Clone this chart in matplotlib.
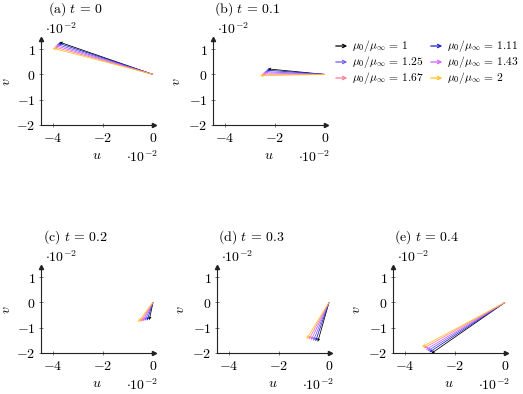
import matplotlib
matplotlib.use("Agg")
import matplotlib.pyplot as plt
import numpy as np

plt.rcParams['mathtext.fontset'] = 'cm'
plt.rcParams['font.family'] = ['DejaVu Serif']

# ---- data (values in units of 1e-2) ----
times = ["0", "0.1", "0.2", "0.3", "0.4"]
panel_tags = ["a", "b", "c", "d", "e"]
ratios = ["1", "1.11", "1.25", "1.43", "1.67", "2"]
colors = ["#000000", "#2020c8", "#6e5cff", "#d060ff", "#ff7a99", "#ffc21a"]

u_t0 = [-3.75, -3.80, -3.86, -3.91, -3.96, -4.02]
v_t0 = [1.28, 1.24, 1.19, 1.14, 1.09, 1.04]
u_t1 = [-2.30, -2.36, -2.42, -2.48, -2.54, -2.60]
v_t1 = [0.22, 0.17, 0.11, 0.06, 0.01, -0.05]
u_t2 = [-0.15, -0.24, -0.33, -0.42, -0.51, -0.60]
v_t2 = [-0.70, -0.72, -0.73, -0.75, -0.77, -0.78]
u_t3 = [-0.45, -0.54, -0.63, -0.72, -0.81, -0.90]
v_t3 = [-1.56, -1.54, -1.52, -1.49, -1.47, -1.45]
u_t4 = [-2.95, -3.03, -3.10, -3.17, -3.25, -3.32]
v_t4 = [-2.02, -1.97, -1.92, -1.87, -1.81, -1.76]

xticks = [-4, -2, 0]
yticks = [-2, -1, 0, 1]

U = [u_t0, u_t1, u_t2, u_t3, u_t4]
V = [v_t0, v_t1, v_t2, v_t3, v_t4]

W, H = 523, 394
fig = plt.figure(figsize=(W / 100, H / 100), dpi=100)

def fx(px):
    return px / W

def fy(py):
    return 1 - py / H

lefts = [41, 213, 41, 217, 393]
tops = [39, 39, 267, 267, 267]
aw, ah = 113, 86
fs = 10

for i in range(5):
    L, T = lefts[i], tops[i]
    ax = fig.add_axes([fx(L), fy(T + ah), aw / W, ah / H])
    ax.set_xlim(-4.48, 0.04)
    ax.set_ylim(-2.0, 1.4)
    for s in ["top", "right"]:
        ax.spines[s].set_visible(False)
    for s in ["left", "bottom"]:
        ax.spines[s].set_linewidth(0.8)
        ax.spines[s].set_color("#222222")
    ax.plot(1, 0, ">", color="#222222", ms=3, transform=ax.transAxes, clip_on=False)
    ax.plot(0, 1, "^", color="#222222", ms=3, transform=ax.transAxes, clip_on=False)
    ax.set_xticks(xticks)
    ax.set_yticks(yticks)
    ax.set_xticklabels([r"$%d$" % t for t in xticks], fontsize=fs)
    ax.set_yticklabels([r"$%d$" % t for t in yticks], fontsize=fs)
    ax.tick_params(direction="inout", length=3, width=0.5, color="#444444", pad=2.5)
    ax.patch.set_alpha(0)

    for j in range(len(ratios)):
        ax.quiver(0, 0, U[i][j], V[i][j], angles="xy", scale_units="xy", scale=1,
                  color=colors[j], width=0.007, headwidth=4, headlength=4.5,
                  headaxislength=4, clip_on=False, zorder=3 + j)

    fig.text(fx(L + 34), fy(T - 30), r"$\mathrm{(%s)}\ t\,=\,%s$" % (panel_tags[i], times[i]),
             ha="center", va="center", fontsize=fs)
    fig.text(fx(L + 20), fy(T - 10), r"$\cdot 10^{-2}$", ha="center", va="center", fontsize=fs)
    fig.text(fx(L + aw - 12), fy(T + ah + 32), r"$\cdot 10^{-2}$", ha="center", va="center", fontsize=fs)
    fig.text(fx(L + 56), fy(T + ah + 30), r"$u$", ha="center", va="center", fontsize=fs)
    fig.text(fx(max(L - 37, 6)), fy(T + ah / 2), r"$v$", ha="center", va="center", fontsize=fs, rotation=90)

# legend (two columns, three rows)
col_x = [333, 428]
row_y = [46, 62, 78]
for j in range(len(ratios)):
    r, c = j // 2, j % 2
    x0 = col_x[c]
    y0 = row_y[r]
    fig.add_artist(matplotlib.patches.FancyArrowPatch(
        (fx(x0), fy(y0)), (fx(x0 + 17), fy(y0)), transform=fig.transFigure,
        arrowstyle="->", mutation_scale=6, color=colors[j], lw=0.9))
    fig.text(fx(x0 + 19), fy(y0), r"$\mu_0/\mu_\infty\,=\,%s$" % ratios[j],
             ha="left", va="center", fontsize=8.3)

fig.savefig("out.png", dpi=100)
